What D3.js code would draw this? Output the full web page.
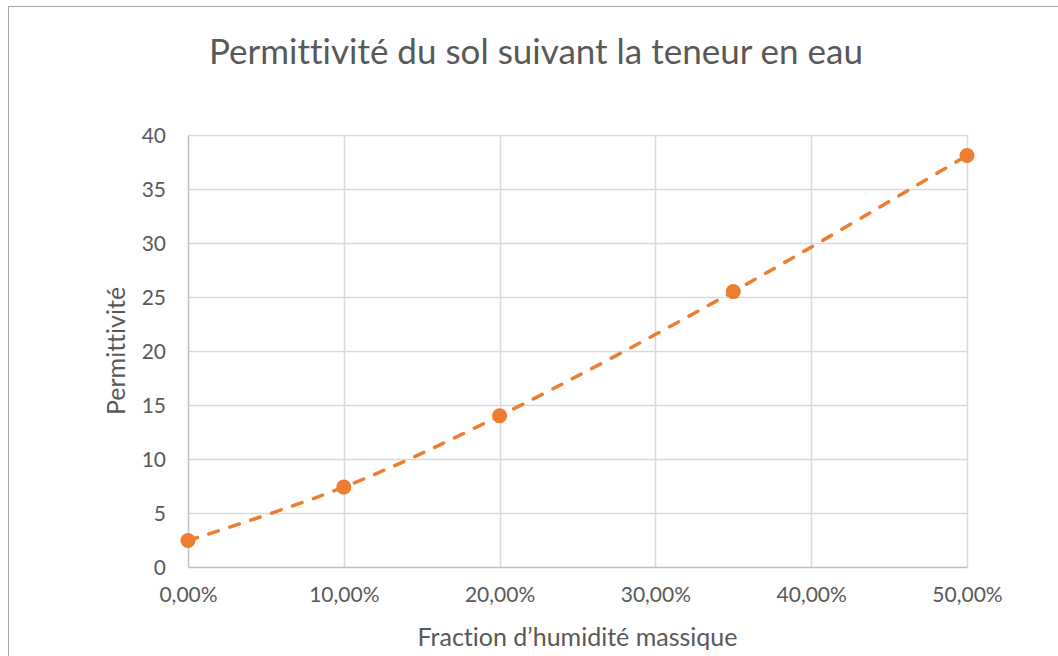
<!DOCTYPE html>
<html>
<head>
<meta charset="utf-8">
<script src="https://cdn.jsdelivr.net/npm/d3@7"></script>
<style>
  body { margin: 0; background: #fff; }
  svg text { font-family: Lato, "Open Sans", sans-serif; fill: #595959; font-variant-ligatures: none; }
</style>
</head>
<body>
<svg id="chart" width="1058" height="656"></svg>
<script>
const humidity = [0, 0.10, 0.20, 0.35, 0.50];
const permittivity = [2.45, 7.4, 14.0, 25.5, 38.1];
const yTicks = [0, 5, 10, 15, 20, 25, 30, 35, 40];
const xTicks = [0, 0.1, 0.2, 0.3, 0.4, 0.5];

const margin = { top: 135, left: 188, right: 91, bottom: 89 };
const width = 1058, height = 656;
const chartWidth = width - margin.left - margin.right;
const chartHeight = height - margin.top - margin.bottom;

const svg = d3.select('#chart');

// chart frame
svg.append('rect')
    .attr('x', 8.5).attr('y', 6.5)
    .attr('width', 1060).attr('height', 660)
    .attr('fill', '#fff')
    .attr('stroke', '#a6a6a6');

const x = d3.scaleLinear().domain([0, 0.5]).range([0, chartWidth]);
const y = d3.scaleLinear().domain([0, 40]).range([chartHeight, 0]);

const g = svg.append('g').attr('transform', `translate(${margin.left},${margin.top})`);

// grid
g.append('g')
    .selectAll('line')
    .data(yTicks.filter(d => d > 0))
    .join('line')
    .attr('x1', 0).attr('x2', chartWidth)
    .attr('y1', d => Math.round(y(d)) + 0.5).attr('y2', d => Math.round(y(d)) + 0.5)
    .attr('stroke', '#d9d9d9').attr('stroke-width', 1.5);

g.append('g')
    .selectAll('line')
    .data(xTicks.filter(d => d > 0))
    .join('line')
    .attr('x1', d => Math.round(x(d)) + 0.5).attr('x2', d => Math.round(x(d)) + 0.5)
    .attr('y1', 0).attr('y2', chartHeight)
    .attr('stroke', '#d9d9d9').attr('stroke-width', 1.5);

// axes
const xAxe = d3.axisBottom(x)
    .tickValues(xTicks)
    .tickSize(0)
    .tickPadding(26)
    .tickFormat(d => d3.format('.2f')(d * 100).replace('.', ',') + '%');

const yAxe = d3.axisLeft(y)
    .tickValues(yTicks)
    .tickSize(0)
    .tickPadding(22);

const xG = g.append('g').attr('transform', `translate(0,${chartHeight})`).call(xAxe);
const yG = g.append('g').call(yAxe);

[xG, yG].forEach(a => {
    a.select('.domain').attr('stroke', '#bfbfbf').attr('stroke-width', 1.5);
    a.selectAll('text').style('font-size', '21px').attr('fill', '#595959');
});
xG.selectAll('text').attr('dy', '0.45em');
yG.selectAll('text').attr('dy', '0.36em');

// dashed smoothed line
const line = d3.line()
    .x(d => x(d[0]))
    .y(d => y(d[1]))
    .curve(d3.curveCatmullRom.alpha(0.5));

const points = humidity.map((h, i) => [h, permittivity[i]]);

g.append('path')
    .datum(points)
    .attr('fill', 'none')
    .attr('stroke', '#ed7d31')
    .attr('stroke-width', 3.5)
    .attr('stroke-linecap', 'round')
    .attr('stroke-dasharray', '10,12')
    .attr('d', line);

g.selectAll('circle')
    .data(points)
    .join('circle')
    .attr('cx', d => x(d[0]))
    .attr('cy', d => y(d[1]))
    .attr('r', 7.5)
    .attr('fill', '#ed7d31');

// titles
svg.append('text')
    .attr('x', 536).attr('y', 64)
    .attr('text-anchor', 'middle')
    .style('font-size', '35px')
    .text('Permittivité du sol suivant la teneur en eau');

svg.append('text')
    .attr('transform', `translate(125,${margin.top + chartHeight / 2}) rotate(-90)`)
    .attr('text-anchor', 'middle')
    .style('font-size', '25px')
    .text('Permittivité');

svg.append('text')
    .attr('x', margin.left + chartWidth / 2).attr('y', 646)
    .attr('text-anchor', 'middle')
    .style('font-size', '25px')
    .text('Fraction d’humidité massique');
</script>
</body>
</html>
